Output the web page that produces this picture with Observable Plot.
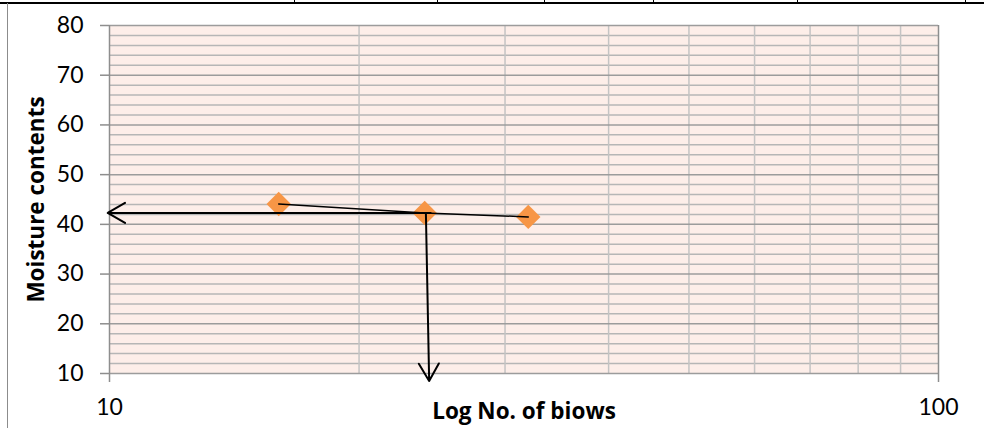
<!DOCTYPE html>
<html>
<head>
<meta charset="utf-8">
<script src="https://cdn.jsdelivr.net/npm/d3@7"></script>
<script src="https://cdn.jsdelivr.net/npm/@observablehq/plot@0.6"></script>
<style>
  html, body { margin: 0; padding: 0; background: #fff; }
  #wrap { position: relative; width: 984px; height: 428px; overflow: hidden; }
  #wrap svg { position: absolute; left: 0; top: 0; }
  .page-rule { position: absolute; background: #000; }
  .page-edge { position: absolute; background: #8c8c8c; }
</style>
</head>
<body>
<div id="wrap">
  <div class="page-rule" style="left:0;top:2px;width:984px;height:1.5px"></div>
  <div class="page-rule" style="left:294px;top:0;width:1px;height:3px"></div>
  <div class="page-rule" style="left:437px;top:0;width:1px;height:3px"></div>
  <div class="page-rule" style="left:544px;top:0;width:1px;height:3px"></div>
  <div class="page-rule" style="left:653px;top:0;width:1px;height:3px"></div>
  <div class="page-rule" style="left:797px;top:0;width:1px;height:3px"></div>
  <div class="page-rule" style="left:965px;top:0;width:1px;height:3px"></div>
  <div class="page-edge" style="left:7px;top:3px;width:1px;height:425px"></div>
</div>
<script>
// Number of blows (log scale) and measured moisture content
const blows = [16, 24, 32];
const moisture = [44.1, 42.3, 41.5];

// Axis ticks and grid positions
const yTicks = [10, 20, 30, 40, 50, 60, 70, 80];
const yMinor = d3.range(12, 80, 2).filter(v => v % 10 !== 0);
const xTickLabels = [10, 100];
const xGrid = [20, 30, 40, 50, 60, 70, 80, 90];

// Reading guides: from the 25-blow point across to the moisture axis and down to the blows axis
const guideX1 = [24.4, 24.08];
const guideY1 = [42.3, 42.3];
const guideX2 = [9.95, 24.3];
const guideY2 = [42.3, 8.5];

const points = blows.map((b, i) => ({blows: b, moisture: moisture[i]}));
const guides = guideX1.map((_, i) => ({x1: guideX1[i], y1: guideY1[i], x2: guideX2[i], y2: guideY2[i]}));

const titleFont = "'Open Sans', sans-serif";

const chart = Plot.plot({
  width: 984,
  height: 428,
  marginLeft: 109,
  marginRight: 46,
  marginTop: 25,
  marginBottom: 55,
  style: {fontFamily: "Lato, sans-serif", color: "#000", background: "transparent"},
  x: {type: "log", domain: [10, 100], axis: null},
  y: {domain: [10, 80], axis: null},
  marks: [
    Plot.frame({fill: "#FDEEE9", stroke: null}),
    Plot.ruleY(yMinor, {stroke: "#B6B6B6", strokeWidth: 1.5}),
    Plot.ruleX(xGrid, {stroke: "#C4C4C4", strokeWidth: 1.5}),
    Plot.ruleY(yTicks, {stroke: "#9C9C9C", strokeWidth: 1.5}),
    Plot.ruleX(xTickLabels, {stroke: "#8E8E8E", strokeWidth: 1.5, insetBottom: -9}),
    Plot.axisY({ticks: yTicks, tickSize: 9, tickPadding: 17, stroke: "#8E8E8E", strokeWidth: 1.5, fontSize: 23, fill: "#000", label: null, tickFormat: d3.format("d")}),
    Plot.axisX({ticks: xTickLabels, tickSize: 0, tickPadding: 25, fontSize: 23, fill: "#000", label: null, tickFormat: d3.format("d")}),
    Plot.dot(points, {x: "blows", y: "moisture", symbol: "diamond2", r: 11, fill: "#F79646", stroke: null}),
    Plot.line(points, {x: "blows", y: "moisture", stroke: "#000", strokeWidth: 1.5}),
    Plot.arrow(guides, {x1: "x1", y1: "y1", x2: "x2", y2: "y2", stroke: "#000", strokeWidth: 2, headLength: 15, headAngle: 60}),
    Plot.text(["Log No. of biows"], {frameAnchor: "bottom", lineAnchor: "middle", textAnchor: "middle", dy: 38, fontSize: 22.5, fontWeight: "bold", fontFamily: titleFont, fill: "#000"}),
    Plot.text(["Moisture contents"], {frameAnchor: "left", lineAnchor: "middle", textAnchor: "middle", dx: -73, rotate: -90, fontSize: 22.5, fontWeight: "bold", fontFamily: titleFont, fill: "#000"})
  ]
});

document.getElementById("wrap").prepend(chart);
</script>
</body>
</html>
